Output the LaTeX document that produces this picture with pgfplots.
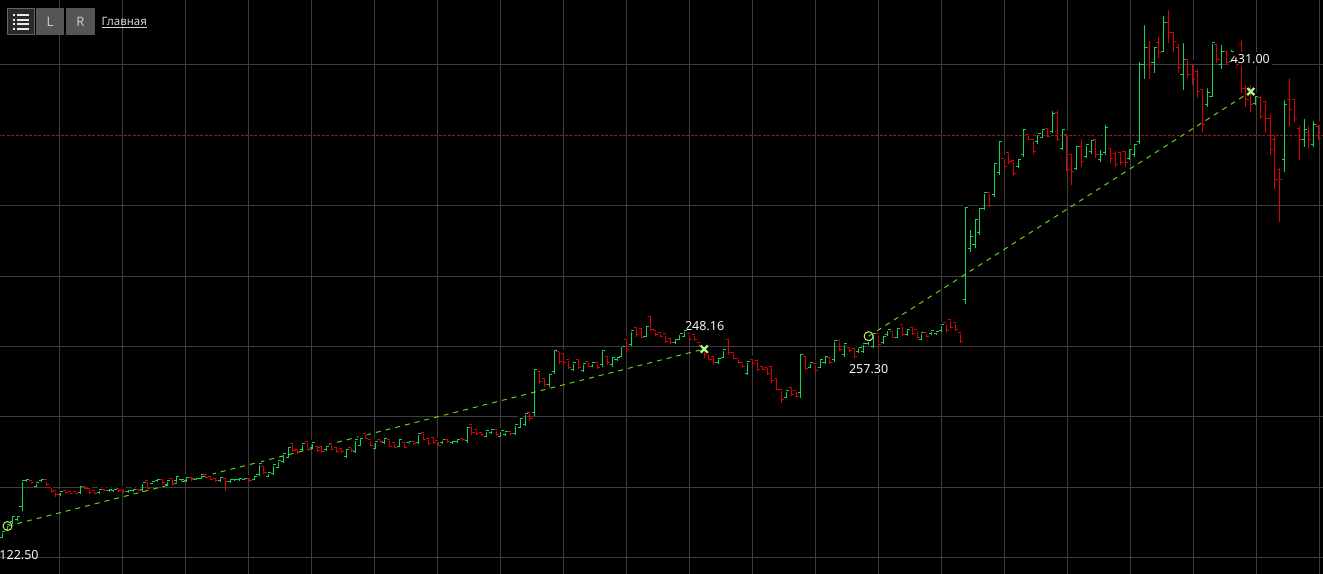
\documentclass[border=0pt]{standalone}
\usepackage{pgfplots}
\pgfplotsset{compat=1.18}
\usepackage{pgfplotstable}
\usepackage{fontspec}
\setmainfont{Noto Sans}
\definecolor{upc}{RGB}{20,210,95}
\definecolor{downc}{RGB}{220,0,0}
\definecolor{tradec}{RGB}{100,210,20}
\definecolor{circc}{RGB}{205,235,100}
\definecolor{xc}{RGB}{170,255,140}
\definecolor{levelc}{RGB}{150,25,25}
\definecolor{gridc}{RGB}{62,62,62}
\definecolor{labc}{RGB}{245,245,245}
\definecolor{btndark}{RGB}{42,42,42}
\definecolor{btnborder}{RGB}{100,100,100}
\definecolor{btngray}{RGB}{85,85,85}
\definecolor{icon}{RGB}{235,235,235}
\definecolor{btntext}{RGB}{200,200,200}
\definecolor{linktext}{RGB}{215,215,215}
\pgfdeclareplotmark{otick}{\pgfpathmoveto{\pgfqpoint{-2.6pt}{0pt}}\pgfpathlineto{\pgfqpoint{0.4pt}{0pt}}\pgfusepathqstroke}
\pgfdeclareplotmark{ctick}{\pgfpathmoveto{\pgfqpoint{-0.4pt}{0pt}}\pgfpathlineto{\pgfqpoint{2.6pt}{0pt}}\pgfusepathqstroke}

\pgfplotstableread{
x o h l c
0 114.7 119.0 114.0 118.3
1 120.4 124.0 119.7 123.3
2 125.4 130.4 124.0 129.6
3 126.8 130.4 126.1 129.6
4 136.7 155.2 133.2 154.5
5 154.5 155.9 153.8 155.2
7 150.9 153.8 150.2 153.1
8 154.5 156.6 153.8 155.9
12 144.6 147.4 143.8 146.7
16 146.0 151.7 145.3 150.9
20 146.0 148.8 145.3 148.1
22 147.4 148.8 146.7 148.8
23 147.4 148.8 146.7 148.1
26 146.7 148.1 146.0 147.4
27 147.4 148.8 146.7 148.8
29 148.1 153.8 146.7 153.1
31 152.4 154.5 152.4 153.8
32 154.5 155.9 153.8 155.2
34 151.7 155.2 150.9 154.5
36 154.5 158.8 153.8 158.0
37 155.2 156.6 154.5 155.9
38 154.5 158.0 153.8 157.3
40 155.9 157.3 155.9 156.6
41 156.6 159.5 155.9 158.8
45 154.5 158.0 153.8 157.3
47 153.8 156.6 153.1 155.9
48 155.2 156.6 154.5 155.9
49 155.2 157.3 154.5 156.6
50 155.9 157.3 155.2 156.6
52 155.9 158.8 155.2 158.0
53 158.8 167.3 158.0 166.6
55 158.0 160.9 157.3 160.2
56 159.5 166.6 158.8 165.9
57 164.4 169.4 163.7 168.7
58 168.0 174.4 167.3 173.7
59 171.5 179.3 170.8 178.6
62 176.5 181.5 175.8 180.8
64 178.6 182.2 177.9 181.5
67 176.5 180.0 175.8 179.3
71 172.2 177.9 170.8 177.2
73 175.1 184.3 174.4 183.6
74 180.0 185.7 179.3 185.0
77 177.9 182.9 177.2 182.2
79 181.5 185.7 180.8 185.0
82 179.3 185.0 178.6 184.3
84 181.5 182.9 180.8 182.2
86 181.5 188.6 180.8 187.9
91 181.5 184.3 180.8 183.6
93 181.5 182.9 180.8 182.2
94 182.2 185.0 181.5 184.3
96 182.9 193.5 181.5 192.8
100 186.4 190.7 185.7 190.0
101 188.6 191.4 187.9 190.7
103 186.4 190.7 185.7 190.0
104 187.2 190.0 186.4 189.3
106 187.9 195.0 187.2 194.3
107 192.8 199.9 192.1 199.2
108 194.3 202.8 193.5 202.1
110 202.8 234.7 200.6 233.3
113 222.7 231.2 221.2 229.8
114 231.9 248.2 230.5 246.8
118 233.3 239.0 232.6 238.3
120 232.6 238.3 231.9 237.6
122 236.1 239.0 235.4 238.3
124 236.9 248.2 235.4 246.8
126 236.9 244.0 235.4 242.5
127 240.4 243.2 239.7 242.5
128 243.2 251.1 242.5 250.3
130 251.1 261.7 250.3 261.0
133 257.4 265.3 256.7 264.5
139 252.5 256.0 251.8 255.3
140 255.3 259.6 254.6 258.9
141 257.4 261.7 256.7 261.0
148 238.3 242.5 237.6 241.8
149 242.5 248.2 241.8 247.5
154 230.5 239.7 229.8 239.0
162 214.1 219.1 213.4 218.4
165 217.0 246.1 213.4 244.0
167 235.4 239.0 234.7 238.3
169 235.4 241.8 234.7 241.1
170 238.3 244.0 237.6 243.2
172 240.4 254.6 239.0 253.9
174 244.0 252.5 242.5 251.8
177 246.1 250.3 245.4 249.6
178 246.1 252.5 245.4 251.8
179 251.8 254.6 251.1 253.9
180 250.3 259.6 248.9 258.9
182 252.5 258.2 251.8 257.4
183 258.2 262.4 257.4 261.7
185 256.7 263.8 256.0 263.1
187 258.2 263.1 257.4 262.4
190 255.3 260.3 254.6 259.6
192 258.9 261.7 258.2 261.0
193 258.9 261.0 258.2 260.3
194 261.0 266.0 260.3 265.3
199 283.0 350.4 280.2 349.0
200 319.9 334.1 317.1 328.4
201 322.1 341.9 319.9 339.8
202 330.6 349.0 329.2 348.3
203 348.3 359.7 346.9 359.0
205 357.6 381.0 356.1 379.6
206 373.2 396.6 371.8 395.2
210 378.1 383.8 376.7 383.1
211 386.0 405.8 384.5 404.4
214 395.2 401.6 393.8 400.9
215 398.7 405.1 398.0 404.4
217 402.3 418.6 401.6 415.1
219 390.9 405.1 389.5 404.4
222 376.7 393.8 375.3 392.3
224 385.2 393.8 383.8 393.1
225 388.1 397.3 386.7 395.9
227 382.4 390.9 381.0 386.0
228 387.4 408.7 386.0 405.8
233 383.8 391.6 382.4 389.5
234 386.0 394.5 384.5 393.1
235 395.2 453.4 393.8 449.9
236 449.9 479.7 439.9 462.6
238 451.3 464.1 444.2 462.6
240 459.1 486.1 459.1 479.7
244 442.8 466.9 432.1 453.4
249 421.5 434.9 420.0 430.0
250 427.8 466.2 427.1 465.5
252 449.9 465.5 447.0 459.1
254 452.0 461.9 449.9 459.1
259 422.2 428.6 421.5 427.8
265 382.4 426.4 373.9 421.5
269 396.6 412.9 391.6 403.7
271 393.1 411.5 391.6 407.3
}\up

\pgfplotstableread{
x o h l c
6 154.5 154.5 153.1 153.1
9 155.2 155.2 150.9 151.7
10 150.2 150.9 146.0 146.7
11 147.4 148.1 143.1 144.6
13 147.4 147.4 145.3 146.0
14 146.7 147.4 145.3 145.3
15 146.7 146.7 145.3 145.3
17 150.9 151.7 148.8 149.5
18 149.5 150.2 145.3 146.0
19 147.4 148.1 145.3 145.3
21 148.8 148.8 147.4 147.4
24 149.5 149.5 146.7 147.4
25 148.8 149.5 146.0 146.7
28 148.8 149.5 147.4 147.4
30 154.5 155.2 148.8 149.5
33 155.9 156.6 151.7 153.1
35 156.6 157.3 151.7 152.4
39 157.3 158.0 154.5 155.2
42 158.8 159.5 156.6 157.3
43 158.0 158.8 155.2 155.9
44 156.6 157.3 153.8 154.5
46 156.6 157.3 147.4 153.8
51 156.6 157.3 153.8 154.5
54 165.1 165.9 159.5 160.2
60 180.8 181.5 175.1 175.8
61 177.2 177.9 173.7 174.4
63 182.2 182.9 176.5 177.2
65 179.3 180.0 175.1 175.8
66 179.3 180.0 174.4 175.1
68 180.8 181.5 176.5 177.2
69 178.6 179.3 174.4 175.1
70 177.9 178.6 174.4 175.1
72 178.6 179.3 175.1 175.8
75 187.9 188.6 184.3 185.0
76 183.6 184.3 179.3 180.0
78 184.3 185.0 181.5 182.2
80 183.6 184.3 178.6 179.3
81 181.5 182.2 177.9 178.6
83 181.5 182.2 177.9 178.6
85 182.2 182.9 180.0 180.8
87 188.6 189.3 183.6 184.3
88 185.0 185.7 180.0 180.8
89 185.7 186.4 180.8 181.5
90 182.9 183.6 179.3 180.0
92 184.3 185.0 181.5 182.2
95 185.0 185.7 182.9 183.6
97 194.3 195.0 187.2 188.6
98 190.7 191.4 187.2 187.9
99 188.6 189.3 186.4 187.2
102 190.7 191.4 186.4 187.2
105 189.3 190.0 187.2 187.9
109 202.8 203.5 197.1 199.2
111 231.9 233.3 223.4 224.8
112 227.6 228.3 221.2 222.7
115 246.1 247.5 237.6 239.0
116 244.7 246.1 236.9 238.3
117 240.4 241.1 234.0 235.4
119 241.1 242.5 234.0 235.4
121 239.0 239.7 235.4 236.1
123 238.3 239.0 234.0 235.4
125 243.2 244.0 236.9 238.3
129 254.6 256.0 246.1 247.5
131 263.8 265.3 256.7 258.2
132 263.1 263.8 256.0 256.7
134 271.6 273.1 261.0 262.4
135 261.0 261.7 257.4 258.2
136 259.6 260.3 256.7 257.4
137 258.9 259.6 252.5 253.2
138 256.0 256.7 251.8 252.5
142 258.9 259.6 254.6 255.3
143 258.2 258.9 253.9 254.6
144 252.5 253.2 249.6 250.3
145 248.9 249.6 241.8 244.0
146 245.4 246.1 240.4 241.1
147 243.2 244.0 236.9 238.3
150 255.3 256.7 244.0 245.4
151 245.4 246.1 241.1 241.8
152 241.8 242.5 237.6 238.3
153 238.3 239.0 235.4 236.1
155 241.1 241.8 236.9 237.6
156 239.7 240.4 232.6 233.3
157 236.1 236.9 233.3 234.0
158 235.4 236.1 229.8 230.5
159 236.1 236.9 224.1 225.5
160 227.6 228.3 219.1 219.8
161 219.1 219.8 209.9 212.0
163 221.2 221.9 214.8 215.6
164 218.4 219.1 214.1 214.8
166 243.2 244.0 233.3 234.7
168 237.6 238.3 231.2 232.6
171 242.5 243.2 237.6 238.3
173 253.9 254.6 246.8 247.5
175 249.6 250.3 246.1 246.8
176 248.9 249.6 241.8 243.2
181 258.9 259.6 250.3 251.1
184 260.3 261.0 256.0 256.7
186 265.3 266.0 257.4 258.2
188 263.8 264.5 258.2 258.9
189 261.7 262.4 256.0 256.7
191 259.6 260.3 256.7 257.4
195 266.7 267.4 260.3 261.0
196 268.8 269.5 263.1 263.8
197 266.7 267.4 261.0 261.7
198 259.6 260.3 252.5 253.2
204 359.0 359.7 349.0 350.4
207 383.8 384.5 376.7 378.1
208 387.4 388.1 379.6 381.0
209 381.7 382.4 371.0 372.5
212 400.2 400.9 396.6 397.3
213 396.6 397.3 386.7 388.1
216 405.1 405.8 398.7 399.4
218 415.8 419.3 395.9 397.3
220 400.2 401.6 373.9 375.3
221 386.0 387.4 364.7 373.9
223 392.3 398.7 377.4 381.0
226 397.3 398.7 383.8 386.0
229 390.9 391.6 380.3 383.8
230 386.7 390.2 377.4 378.9
231 387.4 389.5 378.9 380.3
232 388.1 390.2 377.4 380.3
237 462.6 468.3 439.9 449.9
239 465.5 471.2 454.8 458.4
241 479.7 490.3 465.5 472.6
242 472.6 474.7 459.1 466.2
243 462.6 466.2 444.2 448.4
245 453.4 455.5 440.6 442.8
246 449.9 452.0 435.7 439.2
247 444.9 448.4 426.4 430.7
248 432.1 434.2 402.3 407.3
251 464.1 465.5 451.3 453.4
253 459.1 461.2 449.9 451.3
255 455.5 456.9 447.7 449.9
256 464.1 469.0 430.0 433.5
257 433.5 437.1 420.0 425.0
258 433.5 437.1 416.5 421.5
260 427.1 429.3 411.5 413.6
261 423.6 425.0 401.6 412.2
262 412.2 416.5 386.0 389.5
263 396.6 401.6 361.8 368.2
264 375.3 378.1 338.4 368.2
266 425.0 442.0 405.8 417.9
267 425.0 426.4 409.4 412.2
268 405.1 408.0 382.4 396.6
270 401.6 408.0 390.2 396.6
272 406.5 408.7 396.6 398.0
}\down

\begin{document}
\begin{tikzpicture}
\begin{axis}[
  scale only axis,
  width=1323pt, height=574pt,
  xmin=-0.558, xmax=272.93,
  ymin=88.46, ymax=496,
  enlargelimits=false,
  axis background/.style={fill=black},
  axis line style={draw=none},
  tick style={draw=none},
  major tick length=0pt,
  xticklabels={}, yticklabels={},
  xtick={11.74,24.76,37.78,50.80,63.82,76.84,89.86,102.88,115.90,128.92,141.94,154.96,167.98,181.00,194.02,207.04,220.06,233.08,246.10,259.12,272.14},
  ytick={100,150,200,250,300,350,450},
  grid=major,
  major grid style={draw=gridc, line width=1pt},
  clip=true,
]
% level line
\addplot[levelc, line width=1.2pt, dash pattern=on 3pt off 1.5pt, forget plot] coordinates {(-1,400) (274,400)};
% up bars
\addplot[only marks, mark=none, forget plot,
  error bars/.cd, y dir=minus, y explicit, error mark=none,
  error bar style={draw=upc, line width=1pt, line cap=butt}]
  table[x=x, y=h, y error minus expr=\thisrow{h}-\thisrow{l}] {\up};
\addplot[only marks, mark=otick, upc, mark options={line width=1pt, line cap=butt}, forget plot] table[x=x, y=o] {\up};
\addplot[only marks, mark=ctick, upc, mark options={line width=1pt, line cap=butt}, forget plot] table[x=x, y=c] {\up};
% down bars
\addplot[only marks, mark=none, forget plot,
  error bars/.cd, y dir=minus, y explicit, error mark=none,
  error bar style={draw=downc, line width=1pt, line cap=butt}]
  table[x=x, y=h, y error minus expr=\thisrow{h}-\thisrow{l}] {\down};
\addplot[only marks, mark=otick, downc, mark options={line width=1pt, line cap=butt}, forget plot] table[x=x, y=o] {\down};
\addplot[only marks, mark=ctick, downc, mark options={line width=1pt, line cap=butt}, forget plot] table[x=x, y=c] {\down};
% trades
\addplot[tradec, line width=1pt, dash pattern=on 5pt off 5pt] coordinates {(1,122.5) (145,248.16)};
\addplot[tradec, line width=1pt, dash pattern=on 5pt off 5pt] coordinates {(179,257.3) (258,431.0)};
\addplot[only marks, mark=o, mark size=4.5pt, circc, mark options={line width=1pt}] coordinates {(1,122.5) (179,257.3)};
\addplot[only marks, mark=x, mark size=5pt, xc, mark options={line width=2.2pt}] coordinates {(145,248.16) (258,431.0)};
% value labels
\node[labc, font=\fontsize{12.5}{14}\selectfont, inner sep=1pt] at (axis cs:3.37,101.9) {122.50};
\node[labc, font=\fontsize{12.5}{14}\selectfont, inner sep=1pt, fill=black] at (axis cs:145.1,264.5) {248.16};
\node[labc, font=\fontsize{12.5}{14}\selectfont, inner sep=1pt, fill=black] at (axis cs:179.0,234.0) {257.30};
\node[labc, font=\fontsize{12.5}{14}\selectfont, inner sep=2pt, fill=black] at (axis cs:257.9,454.1) {431.00};
\end{axis}
% top-left controls (pixel coordinates from top-left corner)
\begin{scope}[shift={(current axis.north west)}, x=1pt, y=-1pt]
  \filldraw[fill=btndark, draw=btnborder, line width=1pt] (7.5,8.5) rectangle (34.5,34.5);
  \foreach \yy in {15.2,19.8,24.4,29.0} {
    \fill[icon] (13.3,\yy-1) rectangle (15.3,\yy+1);
    \fill[icon] (17.3,\yy-1) rectangle (29.3,\yy+1);
  }
  \fill[btngray] (36,8) rectangle (64,35);
  \fill[btngray] (66,8) rectangle (95,35);
  \node[font=\fontsize{13}{15}\selectfont, text=btntext] at (50,21.5) {L};
  \node[font=\fontsize{13}{15}\selectfont, text=btntext] at (80.5,21.5) {R};
  \node[font=\fontsize{11.5}{13}\selectfont, text=linktext, anchor=base west, inner sep=0pt] (gl) at (101.5,25.5) {Главная};
  \draw[linktext, line width=1pt] (101.5,27.2) -- (gl.base east |- 0,27.2);
\end{scope}
\pgfresetboundingbox
\path[use as bounding box] (current axis.south west) rectangle (current axis.north east);
\end{tikzpicture}
\end{document}
